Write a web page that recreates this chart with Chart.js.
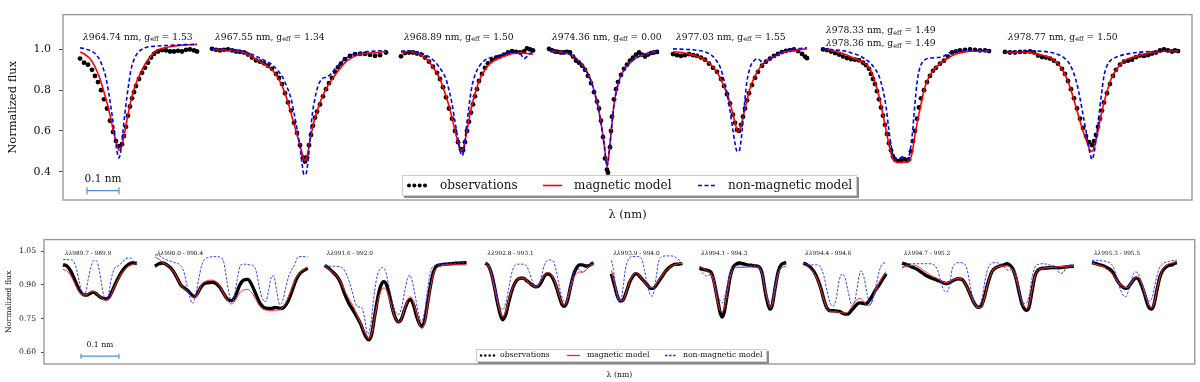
<!DOCTYPE html>
<html>
<head>
<meta charset="utf-8">
<script src="https://cdn.jsdelivr.net/npm/chart.js@4.4.1/dist/chart.umd.min.js"></script>
<style>
body{margin:0;background:#fff;width:1200px;height:382px;position:relative;overflow:hidden}
canvas{position:absolute;left:0}
#topChart{top:0}
#bottomChart{top:230px}
</style>
</head>
<body>
<canvas id="topChart" width="1200" height="230"></canvas>
<canvas id="bottomChart" width="1200" height="152"></canvas>
<script>
// ---- top panel: single lines (x = position along the panel, y = normalized flux)
const topWl = [["964.74"],["967.55"],["968.89"],["974.36"],["977.03"],["978.33","978.36"],["978.77"]];
const topGeff = [["1.53"],["1.34"],["1.50"],["0.00"],["1.55"],["1.49","1.49"],["1.50"]];
const topTicks = [0.4,0.6,0.8,1.0];

const topObs1 = [[80,.955],[84,.935],[88,.925],[92,.9],[95,.87],[98,.84],[101,.8],[104,.755],[107,.71],[110,.65],[113,.595],[116,.55],[119,.525],[122,.535],[124,.575],[126,.62],[128,.675],[130,.72],[132,.76],[134,.79],[136,.82],[139,.855],[142,.885],[145,.91],[148,.935],[151,.96],[154,.978],[158,.99],[162,.997],[166,.995],[170,.99],[174,.99],[178,.993],[182,.99],[186,.998],[190,1.0],[194,.995],[197,.99]];
const topMag1 = [[80,.988],[85,.975],[90,.954],[95,.915],[100,.855],[104,.79],[108,.72],[111,.655],[114,.585],[117,.53],[119,.505],[121,.515],[124,.575],[127,.655],[131,.75],[135,.82],[139,.868],[145,.928],[150,.962],[155,.99],[162,1.005],[170,1.013],[180,1.02],[190,1.023],[197,1.025]];
const topNon1 = [[80,1.008],[85,1.003],[90,.995],[95,.98],[99,.955],[103,.91],[106,.86],[109,.78],[112,.68],[115,.575],[117,.5],[119,.468],[121,.51],[123,.6],[125,.69],[127,.77],[129,.84],[131,.9],[134,.95],[138,.985],[145,1.008],[155,1.016],[170,1.02],[185,1.024],[197,1.025]];

const topObs2 = [[212,1.003],[216,.998],[220,.995],[224,.998],[228,1.0],[232,.995],[236,.99],[240,.988],[244,.985],[248,.975],[252,.96],[256,.946],[260,.94],[264,.932],[268,.92],[272,.905],[276,.88],[279,.86],[282,.83],[285,.785],[288,.74],[291,.7],[294,.64],[297,.59],[300,.53],[303,.47],[305,.45],[307,.47],[309,.53],[311,.58],[313,.625],[315,.665],[317,.695],[320,.73],[323,.77],[326,.805],[329,.835],[332,.86],[335,.89],[338,.912],[341,.93],[345,.952],[350,.968],[355,.977],[360,.978],[365,.978],[370,.973],[375,.968],[380,.972],[386,.985]];
const topMag2 = [[212,1.0],[225,.997],[240,.99],[250,.97],[258,.945],[265,.925],[272,.9],[278,.86],[283,.81],[288,.74],[292,.67],[296,.6],[300,.53],[303,.475],[305,.455],[307,.475],[310,.555],[314,.645],[318,.71],[322,.765],[327,.815],[333,.86],[339,.9],[345,.935],[352,.96],[360,.975],[370,.982],[378,.985],[386,.99]];
const topNon2 = [[212,1.003],[225,1.0],[240,.995],[250,.98],[258,.962],[265,.945],[272,.925],[278,.895],[283,.86],[287,.815],[291,.76],[294,.69],[297,.61],[300,.52],[302,.44],[304,.385],[306,.39],[308,.45],[310,.56],[312,.67],[315,.76],[318,.82],[322,.855],[327,.865],[331,.88],[335,.905],[340,.93],[345,.953],[352,.972],[360,.985],[370,.99],[386,.995]];

const topObs3 = [[401,.966],[405,.982],[409,.985],[413,.985],[417,.98],[421,.975],[425,.96],[429,.94],[433,.915],[437,.885],[440,.855],[443,.815],[446,.765],[449,.71],[452,.66],[455,.6],[458,.545],[461,.51],[463,.505],[465,.545],[467,.6],[469,.645],[471,.69],[473,.73],[475,.77],[477,.805],[479,.845],[482,.88],[485,.91],[488,.932],[492,.948],[496,.958],[500,.965],[504,.975],[508,.985],[512,.992],[516,.988],[520,.985],[524,.99],[527,1.005],[530,1.0],[533,.995]];
const topMag3 = [[401,.985],[408,.99],[415,.985],[422,.97],[428,.945],[434,.905],[440,.855],[444,.8],[448,.74],[452,.665],[455,.6],[458,.545],[461,.505],[463,.51],[466,.575],[469,.655],[472,.73],[476,.8],[480,.855],[485,.9],[490,.93],[497,.953],[505,.968],[513,.98],[520,.983],[527,.98],[533,.977]];
const topNon3 = [[401,.992],[410,.992],[418,.985],[425,.975],[430,.96],[435,.94],[439,.915],[443,.885],[446,.855],[449,.8],[452,.735],[455,.645],[458,.56],[460,.505],[462,.478],[464,.51],[466,.6],[468,.68],[470,.76],[472,.82],[475,.875],[479,.915],[485,.948],[492,.962],[500,.972],[510,.985],[518,.985],[521,.975],[524,.955],[527,.965],[530,.98],[533,.988]];

const topObs4 = [[549,1.003],[552,.995],[555,.99],[558,.988],[561,.985],[564,.985],[567,.988],[570,.985],[573,.965],[576,.945],[579,.935],[582,.92],[585,.9],[588,.87],[591,.835],[594,.79],[597,.745],[599,.71],[601,.65],[603,.57],[605,.465],[607,.41],[608,.395],[610,.52],[611,.6],[612,.67],[614,.755],[616,.805],[618,.84],[621,.875],[624,.905],[627,.925],[630,.945],[633,.96],[636,.975],[639,.985],[642,.975],[645,.965],[648,.975],[651,.982],[654,.985],[657,.988]];
const topMag4 = [[549,.995],[555,.99],[560,.988],[565,.983],[570,.975],[575,.96],[580,.938],[585,.905],[590,.86],[594,.8],[598,.72],[601,.64],[604,.54],[606,.46],[607,.43],[608,.45],[610,.535],[612,.64],[614,.73],[617,.81],[620,.86],[624,.9],[628,.925],[633,.948],[640,.968],[648,.98],[657,.992]];
const topNon4 = [[549,.996],[555,.99],[560,.988],[565,.983],[570,.975],[575,.96],[580,.937],[585,.904],[590,.858],[594,.798],[598,.718],[601,.638],[604,.537],[606,.455],[607,.425],[608,.447],[610,.533],[612,.638],[614,.728],[617,.808],[620,.858],[624,.899],[628,.925],[633,.948],[640,.968],[648,.981],[657,.993]];

const topObs5 = [[673,.977],[677,.972],[681,.968],[685,.972],[689,.977],[693,.972],[697,.968],[701,.96],[705,.95],[709,.93],[713,.91],[717,.89],[721,.855],[724,.82],[727,.78],[730,.735],[733,.68],[735,.64],[737,.605],[739,.6],[741,.63],[743,.67],[745,.71],[747,.75],[749,.785],[752,.825],[755,.86],[758,.89],[762,.92],[766,.94],[770,.955],[774,.968],[778,.978],[782,.987],[786,.993],[790,.997],[794,1.0],[798,.992],[802,.978],[805,.965],[807,.957]];
const topMag5 = [[673,.988],[682,.985],[690,.977],[698,.965],[705,.948],[712,.92],[718,.88],[723,.83],[728,.77],[732,.7],[735,.64],[738,.595],[741,.625],[744,.69],[747,.75],[750,.81],[755,.87],[760,.912],[767,.945],[775,.968],[783,.985],[790,.992],[797,.998],[807,1.003]];
const topNon5 = [[673,1.003],[685,1.0],[695,.997],[705,.988],[712,.97],[716,.948],[720,.915],[724,.85],[727,.785],[730,.7],[733,.6],[735,.54],[737,.5],[739,.5],[741,.55],[743,.65],[745,.76],[747,.845],[750,.91],[753,.94],[757,.954],[760,.948],[763,.93],[767,.94],[772,.958],[780,.984],[790,.998],[800,1.005],[807,1.008]];

const topObs6 = [[823,1.0],[827,.997],[831,.99],[835,.982],[839,.975],[843,.965],[847,.958],[851,.952],[855,.95],[859,.947],[863,.935],[866,.923],[869,.905],[871,.88],[873,.855],[875,.83],[877,.795],[879,.755],[881,.715],[883,.675],[885,.63],[887,.585],[889,.54],[891,.505],[893,.475],[895,.46],[898,.452],[901,.455],[904,.462],[907,.455],[909,.46],[911,.5],[913,.55],[915,.6],[917,.66],[919,.715],[921,.76],[924,.8],[927,.84],[930,.87],[933,.895],[936,.91],[940,.93],[944,.945],[948,.965],[952,.985],[956,.99],[960,.995],[965,.998],[970,1.0],[975,.998],[980,.995],[985,.995],[989,.992]];
const topMag6 = [[823,1.003],[832,.995],[840,.985],[848,.97],[855,.954],[862,.94],[867,.922],[871,.895],[875,.84],[879,.77],[883,.68],[887,.58],[890,.51],[893,.462],[896,.447],[900,.445],[905,.446],[909,.452],[912,.49],[915,.58],[918,.66],[921,.73],[924,.8],[928,.855],[933,.895],[940,.93],[948,.958],[956,.978],[965,.988],[975,.992],[989,.992]];
const topNon6 = [[823,1.003],[835,.998],[845,.992],[853,.98],[860,.968],[866,.95],[871,.93],[875,.905],[879,.87],[883,.8],[886,.72],[889,.6],[891,.53],[893,.478],[895,.462],[898,.462],[901,.47],[903,.474],[905,.468],[908,.462],[910,.5],[912,.57],[914,.68],[916,.79],[918,.87],[921,.925],[925,.95],[930,.957],[937,.96],[943,.965],[950,.985],[958,.992],[970,.995],[989,.995]];

const topObs7 = [[1005,.988],[1010,.985],[1015,.985],[1020,.988],[1025,.988],[1030,.99],[1034,.985],[1038,.97],[1042,.963],[1046,.96],[1050,.955],[1054,.945],[1058,.93],[1062,.905],[1065,.88],[1068,.845],[1071,.805],[1074,.76],[1077,.71],[1080,.66],[1083,.615],[1086,.575],[1089,.545],[1092,.53],[1094,.55],[1096,.58],[1098,.62],[1100,.66],[1102,.7],[1104,.74],[1107,.785],[1110,.83],[1113,.87],[1116,.9],[1120,.925],[1124,.94],[1128,.945],[1132,.95],[1136,.962],[1140,.97],[1144,.968],[1148,.972],[1152,.98],[1156,.985],[1160,.995],[1164,1.0],[1168,.995],[1172,.99],[1175,.995],[1178,.992]];
const topMag7 = [[1005,.985],[1015,.987],[1025,.988],[1035,.98],[1045,.968],[1052,.955],[1058,.93],[1063,.895],[1067,.855],[1071,.8],[1075,.735],[1079,.665],[1083,.6],[1087,.545],[1091,.5],[1093,.505],[1095,.535],[1098,.6],[1101,.675],[1104,.74],[1108,.81],[1112,.865],[1117,.905],[1123,.94],[1130,.958],[1140,.972],[1150,.983],[1160,.99],[1170,.992],[1178,.992]];
const topNon7 = [[1005,.988],[1020,.99],[1035,.992],[1048,.988],[1058,.975],[1065,.955],[1070,.925],[1074,.88],[1077,.83],[1080,.76],[1083,.68],[1086,.6],[1088,.54],[1090,.49],[1092,.46],[1094,.49],[1096,.555],[1098,.63],[1100,.72],[1102,.8],[1104,.87],[1107,.92],[1111,.948],[1116,.962],[1122,.972],[1130,.98],[1140,.987],[1155,.99],[1178,.99]];

// ---- bottom panel: blended regions
const bottomRanges = ["989.7 - 989.9","990.0 - 990.4","991.6 - 992.0","992.8 - 993.1","993.9 - 994.0","994.1 - 994.3","994.4 - 994.6","994.7 - 995.2","995.3 - 995.5"];
const bottomTicks = [0.60,0.75,0.90,1.05];

const botObs1 = [[63,.99],[67,.985],[71,.96],[75,.92],[79,.88],[83,.858],[87,.855],[90,.862],[93,.868],[96,.862],[99,.85],[102,.842],[106,.838],[109,.845],[112,.87],[116,.91],[120,.945],[124,.972],[128,.99],[132,.998],[137,.997]];
const botMag1 = [[63,.97],[67,.962],[71,.94],[75,.905],[79,.87],[83,.855],[87,.858],[90,.868],[93,.872],[96,.865],[99,.852],[102,.84],[106,.832],[109,.838],[112,.865],[116,.905],[120,.94],[124,.965],[128,.982],[132,.99],[137,.995]];
const botNon1 = [[63,1.015],[67,1.013],[72,1.012],[76,.98],[79,.92],[82,.865],[85,.86],[88,.92],[91,.98],[94,1.01],[97,1.005],[100,.95],[103,.87],[106,.828],[108,.84],[111,.92],[114,.97],[118,.985],[122,1.0],[127,1.02],[131,1.02],[134,1.005],[137,1.0]];

const botObs2 = [[155,.984],[159,.995],[163,.998],[167,.99],[171,.975],[175,.95],[178,.925],[181,.9],[185,.885],[189,.87],[192,.855],[195,.848],[198,.865],[201,.89],[204,.905],[208,.91],[212,.912],[216,.908],[220,.89],[224,.86],[228,.835],[232,.83],[236,.855],[240,.9],[244,.922],[248,.925],[252,.9],[256,.86],[260,.82],[264,.8],[268,.795],[272,.795],[276,.8],[280,.795],[284,.8],[288,.825],[292,.87],[296,.92],[300,.95],[304,.965],[308,.975]];
const botMag2 = [[155,1.025],[159,1.015],[163,1.0],[167,.99],[171,.975],[175,.952],[178,.925],[181,.9],[185,.88],[189,.862],[192,.848],[195,.842],[198,.86],[201,.895],[204,.912],[208,.92],[212,.922],[216,.915],[220,.895],[224,.86],[228,.828],[232,.815],[236,.835],[240,.865],[244,.878],[248,.88],[252,.865],[256,.835],[260,.805],[264,.79],[268,.787],[272,.785],[276,.787],[280,.79],[284,.805],[288,.84],[292,.885],[296,.93],[300,.955],[304,.97],[308,.98]];
const botNon2 = [[155,1.035],[160,1.03],[165,1.015],[170,1.008],[175,1.0],[180,.99],[184,.96],[187,.9],[190,.845],[193,.818],[196,.86],[199,.93],[202,.99],[205,1.015],[210,1.025],[215,1.027],[220,1.025],[224,1.0],[227,.92],[230,.845],[232,.822],[235,.86],[238,.94],[241,.99],[245,.993],[250,.99],[254,.985],[257,.95],[260,.88],[263,.835],[266,.826],[269,.88],[272,.94],[274,.94],[277,.87],[280,.812],[283,.83],[286,.89],[289,.94],[292,.97],[295,.99],[298,1.025],[303,1.027],[308,1.025]];

const botObs3 = [[325,.988],[329,.975],[333,.958],[337,.94],[341,.91],[345,.86],[349,.82],[353,.79],[357,.76],[361,.725],[365,.68],[369,.655],[372,.68],[375,.76],[378,.84],[381,.895],[384,.915],[387,.9],[390,.85],[393,.79],[396,.75],[399,.735],[402,.75],[405,.79],[408,.825],[411,.835],[414,.81],[417,.76],[420,.725],[422,.715],[425,.74],[428,.82],[431,.9],[434,.96],[437,.985],[441,.99],[446,.993],[451,.995],[456,.997],[461,.998],[467,1.0]];
const botMag3 = [[325,.985],[329,.972],[333,.955],[337,.94],[341,.915],[345,.875],[349,.84],[353,.81],[357,.77],[361,.73],[365,.69],[369,.66],[372,.685],[375,.755],[378,.825],[381,.87],[384,.887],[387,.875],[390,.835],[393,.785],[396,.75],[399,.735],[402,.752],[405,.795],[408,.835],[411,.847],[414,.82],[417,.77],[420,.72],[422,.705],[425,.73],[428,.81],[431,.89],[434,.95],[437,.975],[441,.985],[446,.99],[451,.99],[456,.99],[461,.99],[467,.99]];
const botNon3 = [[325,.985],[330,.984],[335,.984],[340,.982],[344,.97],[348,.935],[352,.878],[356,.815],[359,.802],[362,.8],[365,.75],[368,.68],[371,.72],[374,.84],[377,.93],[380,.97],[383,.978],[386,.96],[389,.9],[393,.82],[396,.78],[399,.768],[402,.8],[405,.87],[408,.93],[410,.944],[413,.91],[416,.84],[419,.77],[422,.738],[425,.78],[428,.88],[431,.96],[434,.985],[440,.99],[450,.995],[460,.998],[467,1.0]];

const botObs4 = [[486,.998],[489,.985],[492,.95],[495,.89],[498,.82],[501,.765],[503,.745],[506,.765],[509,.82],[512,.87],[515,.905],[518,.925],[521,.93],[524,.93],[527,.92],[530,.91],[533,.898],[536,.892],[539,.895],[542,.915],[545,.94],[548,.95],[551,.945],[554,.925],[557,.89],[560,.845],[563,.81],[565,.805],[568,.83],[571,.89],[574,.945],[577,.975],[580,.99],[583,.99],[586,.985],[589,.985],[591,.99],[594,1.0]];
const botMag4 = [[486,.995],[489,.98],[492,.945],[495,.885],[498,.825],[501,.775],[503,.76],[506,.78],[509,.83],[512,.875],[515,.905],[518,.925],[521,.93],[524,.93],[527,.92],[530,.908],[533,.898],[536,.893],[539,.9],[542,.925],[545,.945],[548,.955],[551,.95],[554,.93],[557,.895],[560,.85],[563,.815],[565,.81],[568,.835],[571,.885],[574,.93],[577,.95],[580,.958],[583,.957],[586,.965],[590,.985],[594,.995]];
const botNon4 = [[486,1.0],[489,.99],[492,.96],[495,.9],[498,.84],[501,.8],[503,.79],[506,.815],[509,.88],[512,.95],[515,.985],[518,.993],[521,.993],[524,.993],[527,.985],[530,.955],[533,.915],[536,.895],[539,.898],[542,.94],[545,.99],[548,1.01],[551,1.012],[554,1.005],[557,.96],[560,.89],[563,.84],[566,.826],[569,.86],[572,.92],[575,.96],[578,.975],[581,.962],[584,.958],[587,.97],[591,.985],[594,.995]];

const botObs5 = [[612,.95],[615,.9],[618,.85],[621,.828],[624,.835],[627,.87],[630,.91],[633,.935],[636,.95],[639,.945],[642,.93],[645,.915],[648,.9],[651,.885],[654,.885],[657,.9],[660,.92],[663,.94],[666,.96],[669,.975],[672,.985],[675,.992],[679,.993],[683,.997]];
const botMag5 = [[612,.965],[615,.91],[618,.855],[621,.83],[624,.835],[627,.87],[630,.915],[633,.94],[636,.955],[639,.948],[642,.93],[645,.912],[648,.9],[651,.888],[654,.888],[657,.905],[660,.925],[663,.945],[666,.962],[669,.975],[672,.985],[675,.99],[679,.995],[683,.997]];
const botNon5 = [[612,1.01],[614,.97],[616,.9],[618,.845],[620,.825],[622,.84],[624,.9],[626,.97],[629,1.015],[633,1.027],[638,1.027],[642,1.02],[645,.97],[648,.9],[651,.855],[653,.85],[655,.88],[657,.94],[659,1.0],[662,1.025],[667,1.03],[672,1.03],[676,1.025],[680,1.01],[683,.997]];

const botObs6 = [[700,.975],[704,.97],[708,.965],[712,.955],[715,.91],[718,.84],[721,.775],[723,.757],[725,.78],[728,.86],[731,.94],[734,.98],[737,.993],[740,.998],[744,.995],[748,.99],[752,.988],[756,.985],[760,.98],[763,.95],[766,.87],[769,.81],[771,.792],[773,.81],[776,.89],[779,.96],[782,.99],[785,.998],[787,1.0]];
const botMag6 = [[700,.985],[704,.975],[708,.96],[712,.945],[715,.9],[718,.83],[721,.785],[723,.78],[725,.8],[728,.87],[731,.94],[734,.97],[737,.978],[740,.978],[744,.978],[748,.98],[752,.98],[756,.98],[760,.975],[763,.945],[766,.875],[769,.82],[771,.8],[773,.815],[776,.885],[779,.95],[782,.975],[785,.982],[787,.985]];
const botNon6 = [[700,.97],[703,.955],[706,.942],[709,.94],[712,.955],[715,.925],[718,.86],[721,.83],[723,.82],[725,.84],[728,.9],[731,.96],[734,.982],[737,.985],[740,.985],[744,.985],[748,.985],[752,.985],[756,.985],[760,.98],[763,.95],[766,.885],[769,.835],[771,.825],[773,.84],[776,.9],[779,.96],[782,.985],[785,.993],[787,.995]];

const botObs7 = [[804,.998],[808,.99],[812,.975],[816,.95],[819,.92],[822,.88],[825,.83],[828,.795],[831,.785],[834,.785],[837,.783],[840,.782],[843,.775],[846,.77],[849,.77],[852,.785],[855,.8],[858,.815],[861,.82],[864,.818],[867,.815],[870,.83],[873,.85],[876,.875],[880,.9],[884,.93],[887,.95]];
const botMag7 = [[804,.99],[808,.983],[812,.968],[816,.945],[819,.915],[822,.875],[825,.83],[828,.795],[831,.783],[834,.78],[837,.78],[840,.778],[843,.775],[846,.775],[849,.78],[852,.8],[855,.822],[858,.835],[861,.84],[864,.83],[867,.812],[870,.808],[873,.83],[876,.87],[880,.91],[884,.94],[887,.96]];
const botNon7 = [[804,.998],[808,.993],[812,.99],[816,.99],[819,.99],[822,.975],[825,.935],[828,.87],[831,.82],[834,.805],[837,.84],[840,.92],[843,.95],[846,.93],[849,.87],[852,.815],[854,.808],[857,.86],[860,.94],[862,.963],[865,.93],[868,.86],[871,.812],[874,.84],[877,.9],[880,.96],[883,.993],[887,1.0]];

const botObs8 = [[903,.998],[908,.99],[913,.98],[918,.97],[923,.955],[928,.94],[933,.93],[938,.922],[943,.912],[947,.907],[951,.912],[955,.922],[959,.928],[963,.925],[967,.9],[971,.86],[975,.82],[979,.8],[982,.805],[985,.84],[989,.91],[993,.96],[997,.978],[1001,.985],[1005,.99],[1008,.995],[1011,.988],[1014,.97],[1017,.93],[1020,.87],[1023,.815],[1026,.79],[1028,.787],[1030,.8],[1033,.87],[1036,.94],[1040,.97],[1045,.975],[1050,.977],[1055,.978],[1060,.977],[1065,.98],[1070,.982],[1075,.984]];
const botMag8 = [[903,.98],[908,.985],[913,.988],[918,.985],[923,.97],[928,.955],[933,.94],[938,.93],[943,.915],[947,.91],[951,.915],[955,.925],[959,.93],[963,.925],[967,.9],[971,.86],[975,.82],[979,.8],[982,.8],[985,.835],[989,.91],[993,.96],[997,.978],[1001,.983],[1005,.985],[1008,.985],[1011,.98],[1014,.965],[1017,.93],[1020,.875],[1023,.825],[1026,.8],[1028,.795],[1030,.81],[1033,.875],[1036,.94],[1040,.968],[1045,.975],[1050,.978],[1055,.98],[1060,.982],[1065,.983],[1070,.985],[1075,.985]];
const botNon8 = [[903,.975],[906,.985],[910,.995],[915,.995],[920,.995],[925,.995],[930,.995],[935,.99],[939,.96],[942,.91],[945,.875],[948,.87],[951,.91],[953,.97],[956,.995],[960,1.0],[964,.998],[968,.97],[971,.9],[974,.84],[977,.81],[980,.81],[983,.84],[986,.92],[989,.975],[993,.998],[997,1.0],[1001,.995],[1005,.98],[1009,.966],[1012,.968],[1015,.975],[1018,.93],[1021,.86],[1024,.82],[1027,.818],[1030,.85],[1033,.93],[1036,.98],[1040,.993],[1045,.995],[1050,.99],[1055,.985],[1058,.97],[1061,.952],[1064,.955],[1067,.975],[1071,.99],[1075,.993]];

const botObs9 = [[1093,1.0],[1097,.995],[1101,.99],[1105,.985],[1109,.975],[1113,.962],[1116,.94],[1119,.915],[1122,.898],[1125,.888],[1128,.885],[1131,.9],[1134,.918],[1137,.932],[1140,.925],[1143,.895],[1146,.855],[1149,.81],[1151,.795],[1153,.793],[1155,.81],[1158,.875],[1161,.935],[1164,.965],[1167,.98],[1170,.988],[1173,.99],[1176,.997],[1178,1.0]];
const botMag9 = [[1093,.998],[1099,.99],[1105,.98],[1110,.965],[1114,.945],[1118,.92],[1122,.9],[1125,.89],[1128,.888],[1131,.9],[1134,.92],[1137,.935],[1140,.93],[1143,.905],[1146,.865],[1149,.82],[1151,.803],[1153,.8],[1155,.815],[1158,.875],[1161,.935],[1164,.97],[1167,.985],[1170,.995],[1174,1.0],[1178,1.005]];
const botNon9 = [[1093,1.01],[1098,1.01],[1103,1.008],[1108,1.005],[1112,.995],[1115,.975],[1118,.93],[1121,.885],[1124,.855],[1127,.848],[1130,.88],[1133,.93],[1136,.958],[1139,.955],[1142,.92],[1145,.87],[1148,.835],[1151,.828],[1154,.855],[1157,.92],[1160,.97],[1164,.995],[1170,1.005],[1175,1.01],[1178,1.01]];

const topObs = [topObs1,topObs2,topObs3,topObs4,topObs5,topObs6,topObs7];
const topMag = [topMag1,topMag2,topMag3,topMag4,topMag5,topMag6,topMag7];
const topNon = [topNon1,topNon2,topNon3,topNon4,topNon5,topNon6,topNon7];
const botObs = [botObs1,botObs2,botObs3,botObs4,botObs5,botObs6,botObs7,botObs8,botObs9];
const botMag = [botMag1,botMag2,botMag3,botMag4,botMag5,botMag6,botMag7,botMag8,botMag9];
const botNon = [botNon1,botNon2,botNon3,botNon4,botNon5,botNon6,botNon7,botNon8,botNon9];

const serif = '"DejaVu Serif", serif';
const barColor = "#4a92d4";

function makeSets(obs, mag, non, st){
  let sets = [];
  obs.forEach(function(o, i){
    sets.push({data:o, order:3, showLine:st.obsLine, borderColor:"#000", backgroundColor:"#000",
      borderWidth:st.obsW, pointRadius:st.obsR, pointBorderWidth:0, pointBackgroundColor:"#000"});
    sets.push({data:mag[i], order:2, borderColor:st.red, borderWidth:st.lineW, pointRadius:0});
    sets.push({data:non[i], order:1, borderColor:st.blue, borderWidth:st.lineW, borderDash:st.dash, pointRadius:0});
  });
  return sets;
}

// 0.1 nm scale bar with end caps
function barSet(x0, len, y, cap){
  return {data:[[x0,y],[x0+len,y]], order:0, borderColor:barColor, borderWidth:1.2,
    pointStyle:"line", pointRotation:90, pointRadius:cap, pointBorderColor:barColor, pointBorderWidth:1.2};
}

// draws "λ964.74 nm, g_eff = 1.53"
function lineLabel(ctx, x, y, wl, g, fs){
  ctx.textBaseline = "middle";
  ctx.textAlign = "left";
  ctx.font = "italic " + fs + "px " + serif;
  ctx.fillText("λ", x, y);
  x += ctx.measureText("λ").width;
  ctx.font = fs + "px " + serif;
  let s = wl + " nm, g";
  ctx.fillText(s, x, y);
  x += ctx.measureText(s).width;
  ctx.font = (fs*0.7) + "px " + serif;
  ctx.fillText("eff", x, y + fs*0.28);
  x += ctx.measureText("eff").width;
  ctx.font = fs + "px " + serif;
  ctx.fillText(" = " + g, x, y);
}

function drawLegend(ctx, L){
  ctx.save();
  ctx.fillStyle = "#8a8a8a";
  ctx.fillRect(L.x + 2, L.y + 2, L.w, L.h);
  ctx.fillStyle = "#fff";
  ctx.fillRect(L.x, L.y, L.w, L.h);
  ctx.strokeStyle = "#cccccc";
  ctx.lineWidth = 1;
  ctx.strokeRect(L.x + 0.5, L.y + 0.5, L.w - 1, L.h - 1);
  let cy = L.y + L.h/2;
  ctx.font = L.fs + "px " + serif;
  ctx.textBaseline = "middle";
  ctx.textAlign = "left";
  // observations
  ctx.fillStyle = "#000";
  for (let k = 0; k < 4; k++){
    ctx.beginPath();
    ctx.arc(L.obs[0] + k*(L.obs[1]-L.obs[0])/3, cy, L.dot, 0, Math.PI*2);
    ctx.fill();
  }
  ctx.fillStyle = "#111";
  ctx.fillText("observations", L.obs[2], cy);
  ctx.strokeStyle = L.red; ctx.lineWidth = L.lw;
  ctx.beginPath(); ctx.moveTo(L.mag[0], cy); ctx.lineTo(L.mag[1], cy); ctx.stroke();
  ctx.fillText("magnetic model", L.mag[2], cy);
  ctx.strokeStyle = L.blue; ctx.setLineDash(L.dash);
  ctx.beginPath(); ctx.moveTo(L.non[0], cy); ctx.lineTo(L.non[1], cy); ctx.stroke();
  ctx.setLineDash([]);
  ctx.fillText("non-magnetic model", L.non[2], cy);
  ctx.restore();
}

function decoPlugin(cfg){
  return {
    id: "deco",
    afterDraw(chart){
      const ctx = chart.ctx, a = chart.chartArea, xs = chart.scales.x, ys = chart.scales.y;
      ctx.save();
      ctx.strokeStyle = "#9a9a9a";
      ctx.lineWidth = 1.4;
      ctx.strokeRect(a.left, a.top, a.right - a.left, a.bottom - a.top);
      ctx.fillStyle = "#111";
      cfg.labels(ctx, xs, ys);
      // scale bar text
      ctx.font = cfg.barFs + "px " + serif;
      ctx.textAlign = "center";
      ctx.textBaseline = "middle";
      ctx.fillStyle = "#111";
      ctx.fillText("0.1 nm", xs.getPixelForValue(cfg.bar[0] + cfg.bar[1]/2), ys.getPixelForValue(cfg.bar[2]));
      ctx.restore();
      drawLegend(ctx, cfg.legend);
    }
  };
}

function axisOpts(c){
  return {
    x: {type:"linear", min:c.xmin, max:c.xmax,
      ticks:{display:false}, grid:{display:false}, border:{display:false},
      title:{display:true, text:"λ (nm)", color:"#111", padding:0, font:{family:serif, size:c.titleFs}},
      afterFit(s){ s.height = c.xh; }},
    y: {min:c.ymin, max:c.ymax,
      afterBuildTicks(s){ s.ticks = c.ticks.map(function(v){ return {value:v}; }); },
      ticks:{color:"#111", padding:c.tickPad, font:{family:serif, size:c.tickFs},
        callback(v){ return v.toFixed(c.dec); }},
      grid:{drawOnChartArea:false, drawTicks:true, tickLength:c.tickLen, color:"#444"},
      border:{display:false},
      title:{display:true, text:"Normalized flux", color:"#111", padding:0, font:{family:serif, size:c.titleFs}},
      afterFit(s){ s.width = c.yw; }}
  };
}

// ---- top chart
const topNm = 320;   // axis units per nm in the top panel
const topBar = [87, 0.1*topNm, 0.3626];
const topSets = makeSets(topObs, topMag, topNon,
  {obsLine:false, obsW:0, obsR:2.4, red:"#ff0000", blue:"#0000ff", lineW:1.6, dash:[4,2.5]});
topSets.push(barSet(topBar[0], topBar[1], 0.307, 3.5));

new Chart(document.getElementById("topChart"), {
  type: "line",
  data: {datasets: topSets},
  options: {
    responsive:false, animation:false, devicePixelRatio:1,
    layout:{padding:{top:3, right:8, left:6, bottom:8}},
    elements:{line:{cubicInterpolationMode:"monotone"}},
    plugins:{legend:{display:false}, tooltip:{enabled:false}},
    scales: axisOpts({xmin:63, xmax:1192, ymin:0.261, ymax:1.171, ticks:topTicks, dec:1,
      tickFs:11, titleFs:11.5, tickPad:8, tickLen:4, xh:22, yw:57})
  },
  plugins:[decoPlugin({
    bar: topBar, barFs: 10.5,
    labels(ctx, xs, ys){
      topWl.forEach(function(w, i){
        const x0 = xs.getPixelForValue(topObs[i][0][0] + 3);
        if (w.length === 1) lineLabel(ctx, x0, ys.getPixelForValue(1.06), w[0], topGeff[i][0], 9.2);
        else {
          lineLabel(ctx, x0, ys.getPixelForValue(1.093), w[0], topGeff[i][0], 9.2);
          lineLabel(ctx, x0, ys.getPixelForValue(1.028), w[1], topGeff[i][1], 9.2);
        }
      });
    },
    legend:{x:402, y:175, w:455, h:21, fs:12, dot:2, lw:1.6, red:"#ff0000", blue:"#0000ff", dash:[4,2.5],
      obs:[409,425,440], mag:[543,562,574], non:[698,715,728]}
  })]
});

// ---- bottom chart
const botNm = 380;   // axis units per nm in the bottom panel
const botBar = [81, 0.1*botNm, 0.631];
const botSets = makeSets(botObs, botMag, botNon,
  {obsLine:true, obsW:3.4, obsR:0, red:"#ff3030", blue:"#3a3aff", lineW:1, dash:[2.5,1.5]});
botSets.push(barSet(botBar[0], botBar[1], 0.582, 2.5));

new Chart(document.getElementById("bottomChart"), {
  type: "line",
  data: {datasets: botSets},
  options: {
    responsive:false, animation:false, devicePixelRatio:1,
    layout:{padding:{top:9, right:4, left:4, bottom:2.5}},
    elements:{line:{cubicInterpolationMode:"monotone"}},
    plugins:{legend:{display:false}, tooltip:{enabled:false}},
    scales: axisOpts({xmin:44, xmax:1196, ymin:0.547, ymax:1.103, ticks:bottomTicks, dec:2,
      tickFs:7.6, titleFs:7.7, tickPad:5, tickLen:3, xh:15.5, yw:40})
  },
  plugins:[decoPlugin({
    bar: botBar, barFs: 7.7,
    labels(ctx, xs, ys){
      bottomRanges.forEach(function(r, i){
        const x = xs.getPixelForValue(botObs[i][0][0] + 2);
        const y = ys.getPixelForValue(1.04);
        ctx.textBaseline = "middle";
        ctx.textAlign = "left";
        ctx.font = "italic 5.8px " + serif;
        ctx.fillText("λλ", x, y);
        const w = ctx.measureText("λλ").width;
        ctx.font = "5.8px " + serif;
        ctx.fillText(r, x + w, y);
      });
    },
    legend:{x:476, y:119, w:291, h:13, fs:7.7, dot:1.2, lw:1.3, red:"#ff2020", blue:"#2a2aff", dash:[2.5,1.5],
      obs:[481,494,500], mag:[567,580,587], non:[665,677,683]}
  })]
});
</script>
</body>
</html>
